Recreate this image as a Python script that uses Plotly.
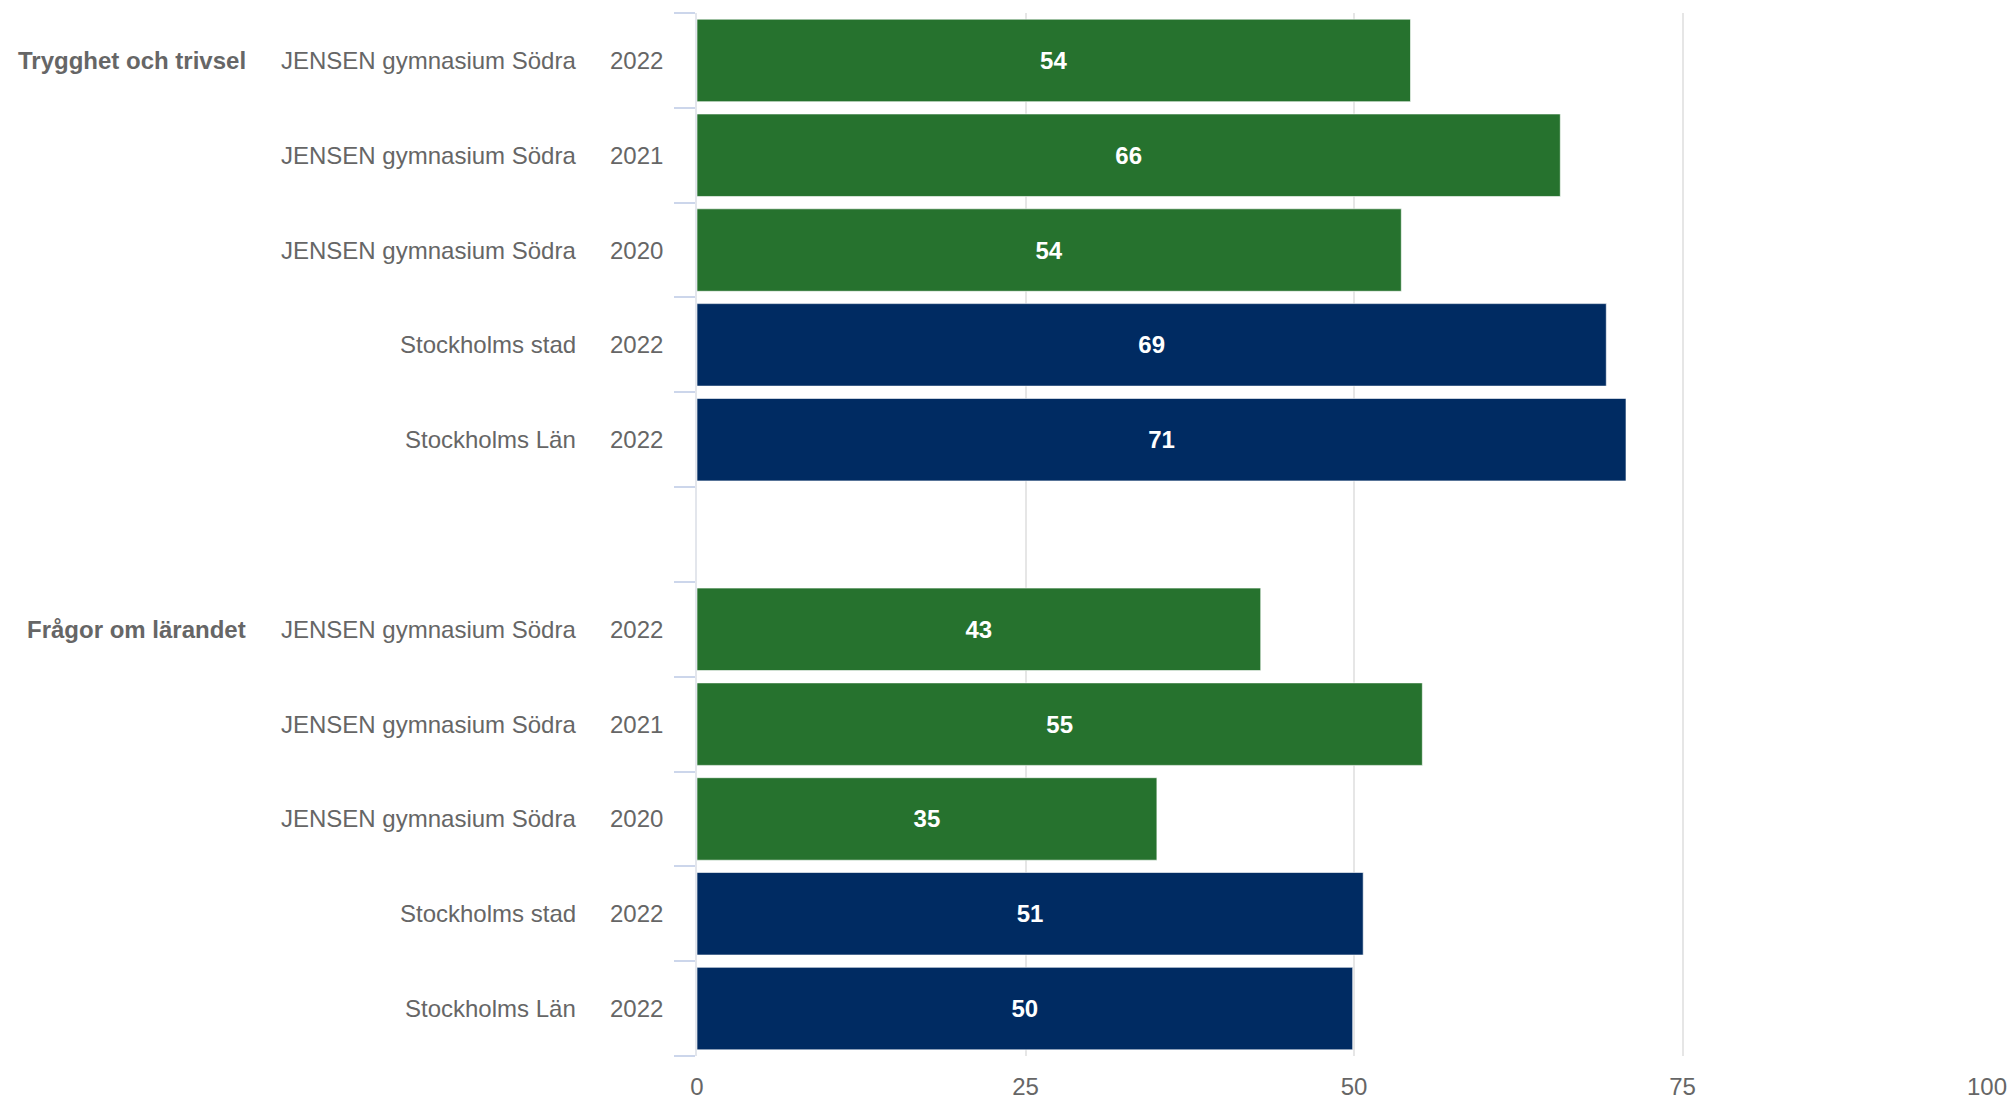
import plotly.graph_objects as go

groups = ["Trygghet och trivsel", "Frågor om lärandet"]
units = ["JENSEN gymnasium Södra", "JENSEN gymnasium Södra", "JENSEN gymnasium Södra",
         "Stockholms stad", "Stockholms Län"]
years = ["2022", "2021", "2020", "2022", "2022"]
unit_colors = ["#26722e", "#26722e", "#26722e", "#002b62", "#002b62"]
values_trygghet = [54.3, 65.7, 53.6, 69.2, 70.7]
values_larandet = [42.9, 55.2, 35.0, 50.7, 49.9]
x_ticks = [0, 25, 50, 75, 100]
x_ticktext = ["0", "25", "50", "75", "100"]

series = [values_trygghet, values_larandet]

ys, xs, cols, labels = [], [], [], []
ann = []
FONT = "Liberation Sans, Arial, sans-serif"
GRAY = "#666666"
for g, (gname, vals) in enumerate(zip(groups, series)):
    base = g * (len(units) + 1)
    for i, v in enumerate(vals):
        pos = base + i
        ys.append(pos)
        xs.append(v)
        cols.append(unit_colors[i])
        labels.append(f"{v:.0f}")
        ann.append(dict(x=0, xref="paper", y=pos, yref="y", text=years[i],
                        xanchor="right", xshift=-32, showarrow=False,
                        font=dict(family=FONT, size=24, color=GRAY)))
        ann.append(dict(x=0, xref="paper", y=pos, yref="y", text=units[i],
                        xanchor="right", xshift=-119, showarrow=False,
                        font=dict(family=FONT, size=24, color=GRAY)))
    ann.append(dict(x=0, xref="paper", y=base, yref="y", text=f"<b>{gname}</b>",
                    xanchor="right", xshift=-449, showarrow=False,
                    font=dict(family=FONT, size=24, color=GRAY)))

# last x tick label kept inside the chart edge (as in the reference)
ann.append(dict(x=x_ticks[-1], xref="x", y=0, yref="paper", text=x_ticktext[-1],
                xanchor="right", yanchor="top", yshift=-15, xshift=-2, showarrow=False,
                font=dict(family=FONT, size=24, color=GRAY)))

n_slots = len(groups) * (len(units) + 1) - 1

fig = go.Figure(go.Bar(
    x=xs, y=ys, orientation="h",
    marker=dict(color=cols, line=dict(color="rgba(255,255,255,0.6)", width=1)),
    text=labels, textposition="inside", insidetextanchor="middle",
    textangle=0,
    textfont=dict(family=FONT, size=24, color="white", weight="bold"),
    width=0.87, hoverinfo="skip",
))

fig.update_layout(
    width=2007, height=1092,
    margin=dict(l=689, r=4, t=5, b=44),
    plot_bgcolor="white", paper_bgcolor="white",
    showlegend=False,
    annotations=ann,
    xaxis=dict(range=[0, 100], tickvals=x_ticks, automargin=False,
               ticktext=x_ticktext[:-1] + [""], showgrid=True,
               gridcolor="#e6e6e6", gridwidth=1.5, zeroline=False,
               showline=False, ticks="", ticklabelstandoff=14,
               tickfont=dict(family=FONT, size=24, color=GRAY)),
    yaxis=dict(range=[n_slots - 0.5, -0.5], autorange=False, automargin=False,
               tickvals=[k - 0.5 for k in range(n_slots + 1)],
               showticklabels=False, ticks="outside", ticklen=21,
               tickcolor="#ccd6eb", tickwidth=2, showgrid=False,
               zeroline=False, showline=True, linecolor="#e3e6ec", linewidth=1.5),
)

fig.write_html("out.html")
